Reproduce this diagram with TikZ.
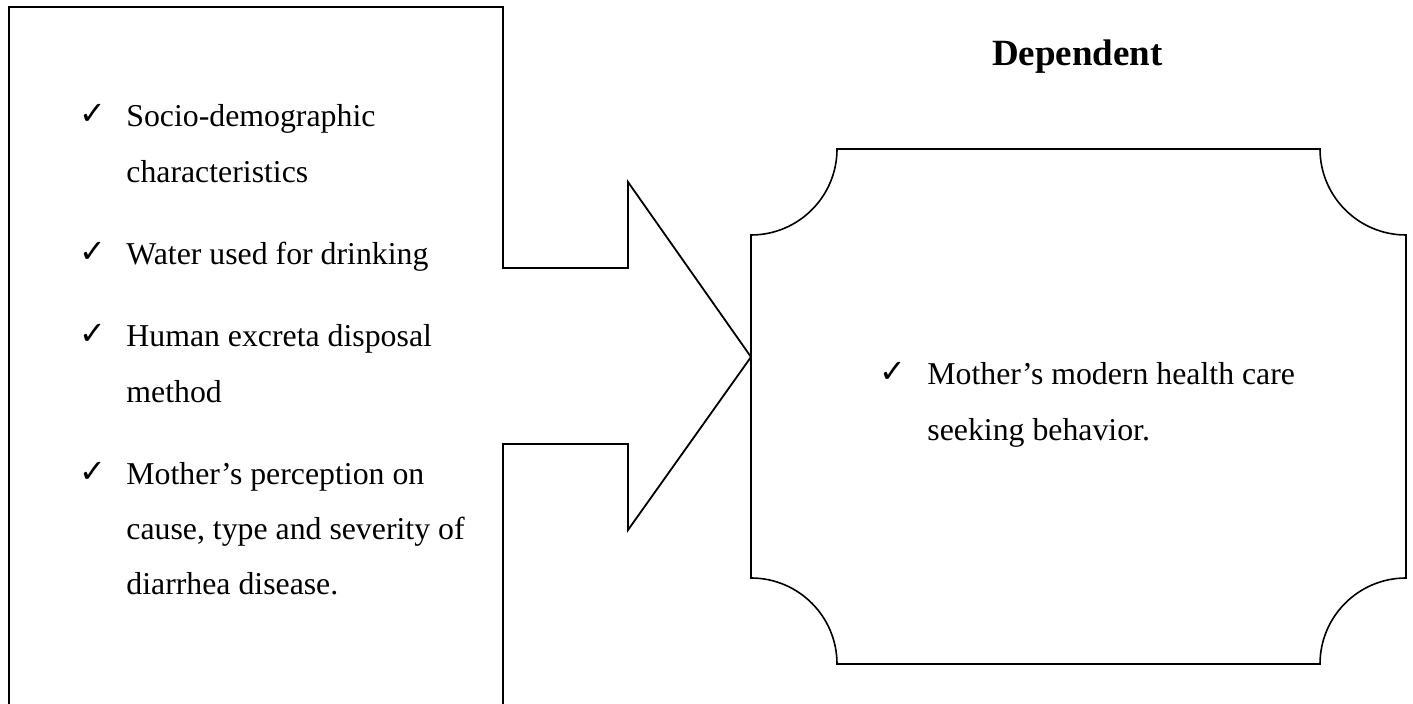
\documentclass[tikz,border=0pt]{standalone}
\usepackage{fontspec}
\setmainfont{Liberation Serif}
\newfontfamily\symfont{DejaVu Sans}
\begin{document}
\begin{tikzpicture}[x=0.5pt,y=-0.5pt,
  outline/.style={draw=black,line width=0.8pt,line join=miter},
  itemtext/.style={anchor=base west,inner sep=0pt,font=\fontsize{15.9}{19}\selectfont},
  tick/.style={anchor=base west,inner sep=0pt,font=\symfont\fontsize{16}{18}\selectfont},
  headtext/.style={anchor=base,inner sep=0pt,font=\bfseries\fontsize{18.5}{22}\selectfont}]
\useasboundingbox (0,0) rectangle (1413,704);
% left box with arrow
\draw[outline,line width=0.9pt] (9,704) -- (9,7) -- (503,7) -- (503,268) -- (628,268) -- (628,182)
  -- (751,357) coordinate (tip) -- (628,530) -- (628,444) -- (503,444) -- (503,704);
% right box with concave corners
\draw[outline] (837,149) -- (1320,149)
  .. controls (1320,196.5) and (1358.5,235) .. (1406,235) -- (1406,578)
  .. controls (1358.5,578) and (1320,616.5) .. (1320,664) -- (837,664)
  .. controls (837,616.5) and (798.5,578) .. (751,578) -- (751,235)
  .. controls (798.5,235) and (837,196.5) .. (837,149) -- cycle;
% heading
\node[headtext] (dep) at (1077.5,66) {Dependent};
% left list
\node[tick] (t1) at (79,125) {✓};
\node[itemtext] (l1a) at (126,127) {Socio-demographic};
\node[itemtext] (l1b) at (126,183) {characteristics};
\node[tick] (t2) at (79,263) {✓};
\node[itemtext] (l2a) at (126,265) {Water used for drinking};
\node[tick] (t3) at (79,345) {✓};
\node[itemtext] (l3a) at (126,347) {Human excreta disposal};
\node[itemtext] (l3b) at (126,403) {method};
\node[tick] (t4) at (79,483) {✓};
\node[itemtext] (l4a) at (126,485) {Mother’s perception on};
\node[itemtext] (l4b) at (126,540) {cause, type and severity of};
\node[itemtext] (l4c) at (126,595) {diarrhea disease.};
% right list
\node[tick] (t5) at (879,383) {✓};
\node[itemtext] (r1a) at (927,385) {Mother’s modern health care};
\node[itemtext] (r1b) at (927,441) {seeking behavior.};
\end{tikzpicture}
\end{document}
